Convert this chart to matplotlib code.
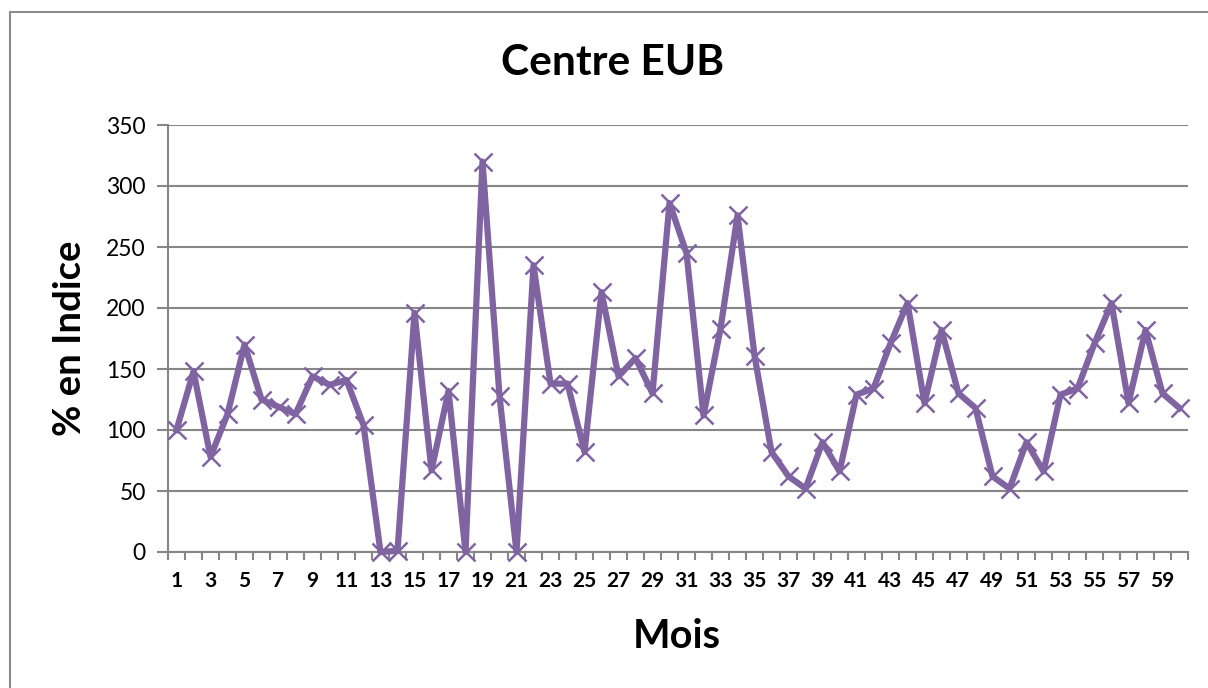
import matplotlib
matplotlib.use("Agg")
import matplotlib.pyplot as plt
from matplotlib.patches import Rectangle
from matplotlib.ticker import FixedLocator, NullFormatter

plt.rcParams['font.family'] = ['Lato', 'DejaVu Sans']

# Données : indice mensuel (%) du Centre EUB
mois = list(range(1, 61))
indice = [
    100, 148, 78, 113, 170, 125, 119, 113, 144, 137,
    141, 104, 0, 1, 196, 67, 132, 0, 320, 128,
    0, 235, 138, 138, 82, 213, 144, 159, 130, 286,
    245, 112, 183, 276, 161, 82, 62, 52, 90, 66,
    129, 134, 171, 204, 122, 182, 130, 118, 62, 52,
    90, 66, 129, 134, 171, 204, 122, 182, 130, 118,
]
yticks = [0, 50, 100, 150, 200, 250, 300, 350]

W, H = 1208, 688
fig = plt.figure(figsize=(W / 100, H / 100), dpi=100)

# cadre extérieur du graphique
fig.patches.append(Rectangle((10 / W, -0.1), 1.2, (H - 12) / H + 0.1,
                             transform=fig.transFigure, fill=False,
                             edgecolor='#8c8c8c', linewidth=1.5))

ax = fig.add_axes([168 / W, (H - 552) / H, 1020 / W, 427 / H])

grid_col = '#868686'
ax.plot(mois, indice, color='#8064A2', linewidth=4.5, marker='x',
        markersize=13, markeredgewidth=1.8, zorder=3, clip_on=False)

ax.set_xlim(0.5, 60.5)
ax.set_ylim(0, 350)
ax.set_yticks(yticks)
ax.yaxis.grid(True, color=grid_col, linewidth=1.5)
ax.set_axisbelow(True)

ax.set_xticks(mois[::2])
ax.set_xticklabels([str(m) for m in mois[::2]], fontweight='bold', fontsize=15)
ax.xaxis.set_minor_locator(FixedLocator([m + 0.5 for m in range(0, 61)]))
ax.xaxis.set_minor_formatter(NullFormatter())
ax.tick_params(axis='x', which='major', length=0, pad=14)
ax.tick_params(axis='x', which='minor', length=6, width=1.5, color=grid_col, direction='out')
ax.tick_params(axis='y', length=8, width=1.5, color=grid_col, labelsize=16.5, pad=8)

for s in ['top', 'right']:
    ax.spines[s].set_visible(False)
for s in ['left', 'bottom']:
    ax.spines[s].set_color(grid_col)
    ax.spines[s].set_linewidth(1.5)

fig.text(613 / W, 1 - 63 / H, 'Centre EUB', ha='center', va='center',
         fontsize=30.5, fontweight='bold')
fig.text(677 / W, 1 - 637 / H, 'Mois', ha='center', va='center',
         fontsize=28.5, fontweight='bold')
fig.text(70 / W, 1 - 338 / H, '% en Indice', ha='center', va='center',
         rotation=90, fontsize=27.5, fontweight='bold')

fig.savefig('out.png', dpi=100)
